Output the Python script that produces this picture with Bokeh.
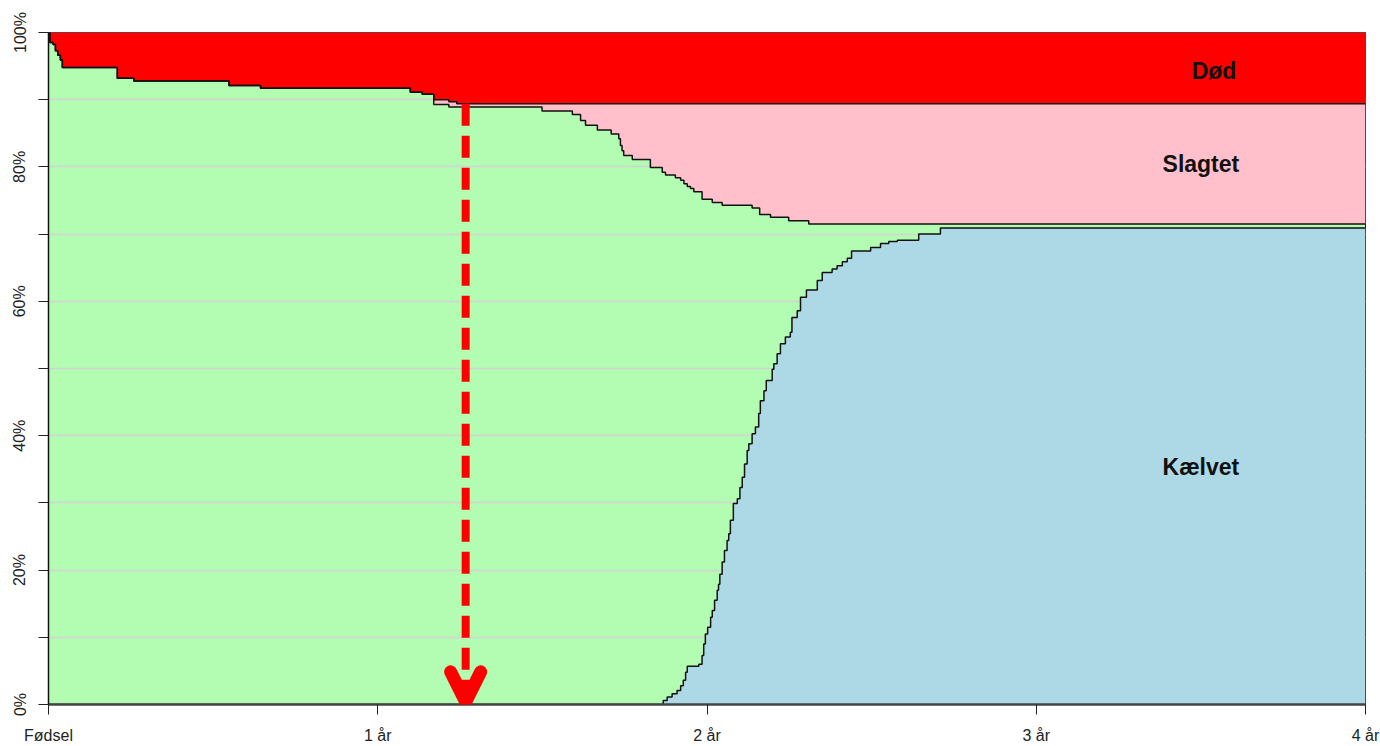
from bokeh.plotting import figure
from bokeh.models import Range1d, FixedTicker, Arrow, OpenHead
from bokeh.core.properties import value
from bokeh.embed import file_html
from bokeh.resources import INLINE

# ---- data (x in years since birth, levels in %) ----
# lower edge of the red "Død" band
dod_x = [0, 0.004, 0.014, 0.021, 0.028, 0.036, 0.042, 0.209, 0.259, 0.548, 0.644,
         1.099, 1.135, 1.170, 1.216, 1.240, 4.0]
dod_level = [100, 98.5, 98.2, 97.3, 96.6, 95.9, 94.8, 93.2, 92.8, 92.1, 91.7,
             91.1, 90.8, 90.0, 89.7, 89.4, 89.4]

# lower edge of the pink "Slagtet" band (top of the green band)
slagt_x = [0, 0.004, 0.014, 0.021, 0.028, 0.036, 0.042, 0.209, 0.259, 0.548, 0.644,
           1.099, 1.135, 1.170, 1.216, 1.499, 1.591, 1.616, 1.631, 1.667, 1.709,
           1.732, 1.737, 1.742, 1.747, 1.773, 1.828, 1.864, 1.874, 1.904, 1.920,
           1.930, 1.940, 1.950, 1.960, 1.985, 2.016, 2.046, 2.137, 2.160, 2.193,
           2.248, 2.309, 4.0]
slagt_level = [100, 98.5, 98.2, 97.3, 96.6, 95.9, 94.8, 93.2, 92.8, 92.1, 91.7,
               91.1, 90.8, 89.3, 88.9, 88.3, 87.8, 86.9, 86.2, 85.5, 84.9,
               84.2, 83.2, 82.4, 81.7, 81.1, 79.9, 79.2, 78.8, 78.4, 78.0,
               77.5, 77.1, 76.8, 76.3, 75.2, 74.7, 74.3, 73.9, 72.9, 72.5,
               72.0, 71.5, 71.5]

# top edge of the blue "Kælvet" band
kalv_x = [0, 1.867, 1.879, 1.894, 1.909, 1.920, 1.928, 1.935, 1.940, 1.975, 1.985,
          1.990, 1.995, 2.002, 2.011, 2.016, 2.023, 2.031, 2.035, 2.039, 2.046,
          2.053, 2.061, 2.066, 2.071, 2.080, 2.092, 2.100, 2.107, 2.114, 2.122,
          2.127, 2.137, 2.147, 2.157, 2.162, 2.173, 2.180, 2.198, 2.203, 2.213,
          2.223, 2.238, 2.253, 2.258, 2.274, 2.284, 2.302, 2.335, 2.350, 2.380,
          2.395, 2.411, 2.426, 2.439, 2.497, 2.527, 2.552, 2.578, 2.643, 2.709, 4.0]
kalv_level = [0, 0.6, 1.1, 1.6, 2.1, 2.8, 3.6, 4.8, 5.7, 6.0, 7.3,
              9.0, 10.5, 11.5, 13.0, 14.0, 15.5, 17.0, 17.9, 19.4, 21.2,
              22.9, 24.4, 25.4, 27.4, 29.9, 30.6, 32.3, 33.8, 35.8, 37.8,
              38.8, 40.3, 41.3, 43.3, 45.2, 46.7, 48.2, 49.9, 50.7, 52.2,
              53.7, 54.7, 55.4, 57.6, 58.6, 60.6, 61.7, 63.1, 64.3, 64.8,
              65.3, 65.9, 66.4, 67.5, 68.0, 68.6, 68.9, 69.1, 70.0, 70.9, 70.9]

band_names = ["Død", "Slagtet", "Kælvet"]
band_label_x = [3.54, 3.50, 3.50]
band_label_y = [94.3, 80.5, 35.3]

x_ticks = [0, 1, 2, 3, 4]
x_tick_labels = ["Fødsel", "1 år", "2 år", "3 år", "4 år"]
y_ticks = [0, 10, 20, 30, 40, 50, 60, 70, 80, 90, 100]
y_tick_labels = ["0%", "", "20%", "", "40%", "", "60%", "", "80%", "", "100%"]

arrow_x = 1.267
arrow_top = 89.4

GREEN = "#b3fdb3"
PINK = "#ffc0cb"
BLUE = "#add8e6"
RED = "#ff0000"

p = figure(width=1380, height=746, output_backend="svg", toolbar_location=None,
           x_range=Range1d(0, 4), y_range=Range1d(0, 100),
           min_border_left=48, min_border_right=15, min_border_top=32, min_border_bottom=42,
           background_fill_color=GREEN, border_fill_color="white",
           outline_line_color="#222222", outline_line_width=1)

# grid
p.xgrid.visible = False
p.ygrid.ticker = FixedTicker(ticks=y_ticks)
p.ygrid.grid_line_color = "#d2d2d2"
p.ygrid.grid_line_width = 1.5

# bands
n = len(kalv_x)
p.varea_step(x=kalv_x, y1=[0] * n, y2=kalv_level, step_mode="after", fill_color=BLUE)
m = len(slagt_x)
p.varea_step(x=slagt_x, y1=slagt_level, y2=[100] * m, step_mode="after", fill_color=PINK)
k = len(dod_x)
p.varea_step(x=dod_x, y1=dod_level, y2=[100] * k, step_mode="after", fill_color=RED)

for xs, ys in [(kalv_x, kalv_level), (slagt_x, slagt_level), (dod_x, dod_level)]:
    p.step(xs, ys, mode="after", line_color="#111111", line_width=1.5)

# labels
p.text(x=band_label_x, y=band_label_y, text=band_names, text_align="center",
       text_baseline="middle", text_font=value("Liberation Sans"),
       text_font_size="23px", text_font_style="bold", text_color="#111111")

# arrow
p.add_layout(Arrow(x_start=arrow_x, y_start=arrow_top, x_end=arrow_x, y_end=0.4,
                   line_color=RED, line_width=8, line_dash="22 10",
                   end=OpenHead(size=30, line_color=RED, line_width=13,
                                line_cap="round", line_join="round")))

# axes
font = "Liberation Sans"
xa = p.xaxis[0]
xa.ticker = FixedTicker(ticks=x_ticks)
xa.major_label_overrides = {t: s for t, s in zip(x_ticks, x_tick_labels)}
xa.axis_line_color = "#444444"
xa.axis_line_width = 2.5
xa.major_tick_out = 10
xa.major_tick_in = 0
xa.minor_tick_out = 0
xa.minor_tick_in = 0
xa.major_tick_line_color = "#222222"
xa.major_label_standoff = 12
xa.major_label_text_font = font
xa.major_label_text_font_size = "16px"
xa.major_label_text_color = "#222222"

ya = p.yaxis[0]
ya.ticker = FixedTicker(ticks=y_ticks)
ya.major_label_overrides = {t: s for t, s in zip(y_ticks, y_tick_labels)}
ya.axis_line_color = "#111111"
ya.axis_line_width = 1.5
ya.major_tick_out = 10
ya.major_tick_in = 0
ya.minor_tick_out = 0
ya.minor_tick_in = 0
ya.major_tick_line_color = "#222222"
ya.major_label_orientation = "vertical"
ya.major_label_standoff = 10
ya.major_label_text_font = font
ya.major_label_text_font_size = "16px"
ya.major_label_text_color = "#222222"

open("out.html", "w").write(file_html(p, INLINE))
